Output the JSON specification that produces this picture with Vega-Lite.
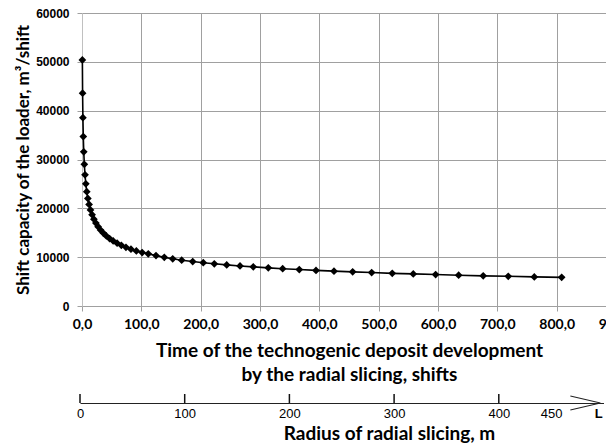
{
  "$schema": "https://vega.github.io/schema/vega-lite/v6.json",
  "width": 524,
  "height": 293,
  "autosize": {"type": "none"},
  "padding": {"left": 82, "top": 13, "right": 0, "bottom": 141},
  "background": "white",
  "config": {"view": {"stroke": null}},
  "layer": [
    {
      "data": {"values": [
        {"t": 0.62, "q": 50380}, {"t": 1.01, "q": 43580}, {"t": 1.52, "q": 38570}, {"t": 2.16, "q": 34690},
        {"t": 2.96, "q": 31580}, {"t": 3.93, "q": 29020}, {"t": 5.08, "q": 26860}, {"t": 6.44, "q": 25020},
        {"t": 8.02, "q": 23420}, {"t": 9.85, "q": 22020}, {"t": 11.94, "q": 20790}, {"t": 14.32, "q": 19680},
        {"t": 17.0, "q": 18690}, {"t": 20.03, "q": 17790}, {"t": 23.4, "q": 16980}, {"t": 27.16, "q": 16240},
        {"t": 31.32, "q": 15560}, {"t": 35.91, "q": 14930}, {"t": 40.97, "q": 14360}, {"t": 46.51, "q": 13820},
        {"t": 52.56, "q": 13320}, {"t": 59.16, "q": 12860}, {"t": 66.33, "q": 12420}, {"t": 74.11, "q": 12020},
        {"t": 82.53, "q": 11640}, {"t": 91.61, "q": 11280}, {"t": 101.39, "q": 10940}, {"t": 111.7, "q": 10680},
        {"t": 124.7, "q": 10330}, {"t": 138.7, "q": 9960}, {"t": 152.9, "q": 9660}, {"t": 168.0, "q": 9380},
        {"t": 186.6, "q": 9100}, {"t": 204.4, "q": 8870}, {"t": 223.0, "q": 8650}, {"t": 243.9, "q": 8420},
        {"t": 266.3, "q": 8200}, {"t": 288.7, "q": 8020}, {"t": 314.0, "q": 7810}, {"t": 338.2, "q": 7630},
        {"t": 366.2, "q": 7460}, {"t": 394.4, "q": 7290}, {"t": 424.7, "q": 7140}, {"t": 456.2, "q": 6990},
        {"t": 488.2, "q": 6850}, {"t": 522.9, "q": 6690}, {"t": 558.3, "q": 6570}, {"t": 596.0, "q": 6440},
        {"t": 634.8, "q": 6300}, {"t": 676.2, "q": 6170}, {"t": 718.4, "q": 6080}, {"t": 762.3, "q": 5960},
        {"t": 808.4, "q": 5870}
      ]},
      "mark": {"type": "line", "color": "black", "strokeWidth": 1.6,
        "point": {"shape": "diamond", "size": 60, "filled": true, "color": "black", "opacity": 1}},
      "encoding": {
        "x": {
          "field": "t", "type": "quantitative",
          "scale": {"domain": [0, 900], "range": [0, 534], "nice": false, "zero": true},
          "axis": {
            "orient": "bottom",
            "values": [0, 100, 200, 300, 400, 500, 600, 700, 800, 900],
            "labelExpr": "replace(format(datum.value, '.1f'), '.', ',')",
            "title": ["Time of the technogenic deposit development", "by the radial slicing, shifts"],
            "titleFont": "Lato", "titleFontSize": 19, "titleFontWeight": "bold", "titleColor": "black",
            "titlePadding": 10, "titleLineHeight": 24,
            "labelFont": "Lato", "labelFontSize": 14, "labelFontWeight": "bold", "labelColor": "black",
            "labelPadding": 6, "labelFlush": false, "labelOverlap": false,
            "tickSize": 5, "tickColor": "#a0a0a0", "domainColor": "#a0a0a0",
            "grid": true, "gridColor": "#a0a0a0", "gridWidth": 1
          }
        },
        "y": {
          "field": "q", "type": "quantitative",
          "scale": {"domain": [0, 60000], "nice": false},
          "axis": {
            "values": [0, 10000, 20000, 30000, 40000, 50000, 60000],
            "format": "d",
            "title": "Shift capacity of the loader, m³/shift",
            "titleFont": "Lato", "titleFontSize": 17, "titleFontWeight": "bold", "titleColor": "black",
            "titlePadding": 3,
            "labelFont": "Liberation Sans", "labelFontSize": 12, "labelFontWeight": "bold", "labelColor": "black",
            "labelPadding": 8, "labelFlush": false,
            "tickSize": 5, "tickColor": "#a0a0a0", "domainColor": "#c0c0c0",
            "grid": true, "gridColor": "#a0a0a0", "gridWidth": 1
          }
        }
      }
    },
    {
      "layer": [
        {
          "data": {"values": [{"r": 497, "v": 0}]},
          "mark": {"type": "point", "shape": "M -4 -0.93 L 0 0 L -4 0.93", "size": 225, "filled": false,
            "stroke": "#222222", "strokeWidth": 1.1, "opacity": 1},
          "encoding": {
            "x": {
              "field": "r", "type": "quantitative",
              "scale": {"domain": [0, 500], "range": [-2, 521.5], "nice": false, "zero": true},
              "axis": {
                "orient": "bottom", "offset": 97,
                "values": [0, 100, 200, 300, 400, 450, 495],
                "labelExpr": "datum.value == 495 ? 'L' : datum.label",
                "labelFont": "Liberation Sans", "labelFontSize": 13, "labelColor": "black",
                "labelFontWeight": {"condition": {"test": "datum.value == 495", "value": "bold"}, "value": "normal"},
                "labelPadding": 4, "labelFlush": false, "labelOverlap": false,
                "ticks": false,
                "domainColor": "#222222", "domainWidth": 1.2,
                "grid": false,
                "title": "Radius of radial slicing, m",
                "titleFont": "Lato", "titleFontSize": 19, "titleFontWeight": "bold", "titleColor": "black",
                "titleX": 307, "titleY": 30, "titleBaseline": "middle", "titleAlign": "center"
              }
            },
            "y": {
              "field": "v", "type": "quantitative",
              "scale": {"domain": [0, 1], "range": [390, 290]},
              "axis": null
            }
          }
        },
        {
          "data": {"values": [{"r": 0, "v0": 0, "v1": 0.09}, {"r": 100, "v0": 0, "v1": 0.09}, {"r": 200, "v0": 0, "v1": 0.09}, {"r": 300, "v0": 0, "v1": 0.09}, {"r": 400, "v0": 0, "v1": 0.09}]},
          "mark": {"type": "rule", "color": "#111111", "strokeWidth": 1.5, "opacity": 1},
          "encoding": {
            "x": {"field": "r", "type": "quantitative"},
            "y": {"field": "v0", "type": "quantitative"},
            "y2": {"field": "v1"}
          }
        }
      ]
    }
  ],
  "resolve": {"scale": {"x": "independent", "y": "independent"}}
}
